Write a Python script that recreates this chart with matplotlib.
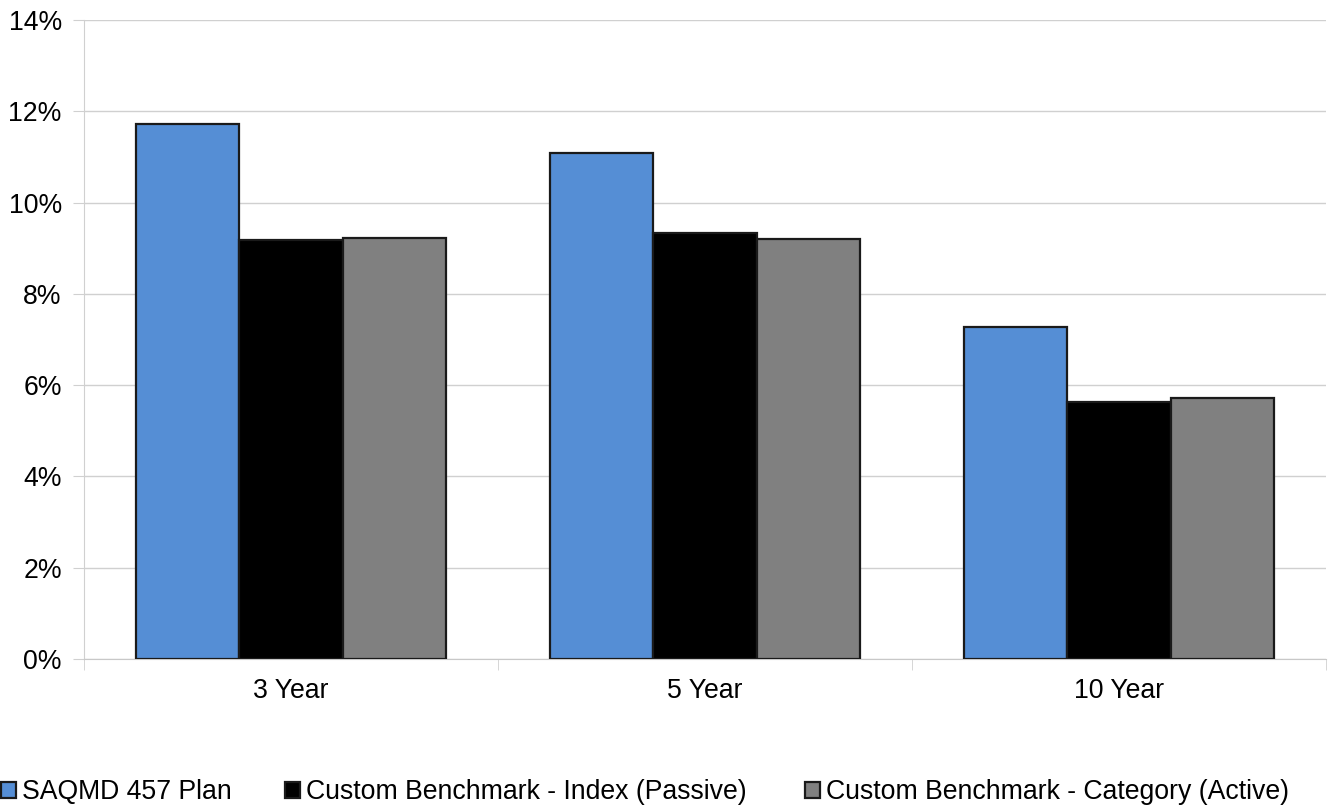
import numpy as np
import matplotlib
matplotlib.use("Agg")
import matplotlib.pyplot as plt
from matplotlib.ticker import FuncFormatter

plt.rcParams['font.family'] = ['Liberation Sans', 'DejaVu Sans']

# data (percent)
periods = ['3 Year', '5 Year', '10 Year']
series_names = ['SAQMD 457 Plan',
                'Custom Benchmark - Index (Passive)',
                'Custom Benchmark - Category (Active)']
plan = [11.72, 11.09, 7.28]
index_bm = [9.18, 9.34, 5.62]
category_bm = [9.22, 9.20, 5.72]
colors = ['#558ED5', '#000000', '#808080']

W, H = 1334, 808
fig = plt.figure(figsize=(W / 100, H / 100), dpi=100)
ax = fig.add_axes([84 / W, (H - 659) / H, (1326 - 84) / W, (659 - 20) / H])

x = np.arange(len(periods))
width = 0.25
bars = []
for i, (vals, name, c) in enumerate(zip([plan, index_bm, category_bm], series_names, colors)):
    b = ax.bar(x + (i - 1) * width, vals, width, color=c, edgecolor='#1a1a1a',
               linewidth=1.6, label=name, zorder=3)
    bars.append(b)

ax.set_xlim(-0.5, 2.5)
ax.set_ylim(0, 14)
ax.set_yticks(np.arange(0, 15, 2))
ax.yaxis.set_major_formatter(FuncFormatter(lambda v, p: f'{v:.0f}%'))
ax.set_xticks(x)
ax.set_xticklabels(periods)
ax.set_xticks([-0.5, 0.5, 1.5, 2.5], minor=True)

ax.grid(axis='y', color='#d0d0d0', linewidth=1, zorder=0)
for s in ['top', 'right']:
    ax.spines[s].set_visible(False)
ax.spines['left'].set_color('#d0d0d0')
ax.spines['bottom'].set_color('#c8c8c8')
ax.tick_params(axis='y', length=8, color='#d0d0d0', labelsize=19.2, pad=8)
ax.tick_params(axis='x', which='major', length=0, labelsize=19.2, pad=14)
ax.tick_params(axis='x', which='minor', length=8, color='#d0d0d0')

# legend entries placed individually, Excel-style spacing
legend_x = [1 / W, 285 / W, 805 / W]
for b, name, lx in zip(bars, series_names, legend_x):
    fig.legend([b], [name], loc='center left', bbox_to_anchor=(lx, 1 - 792 / H),
               frameon=False, fontsize=19.2, handlelength=0.55, handleheight=0.55,
               handletextpad=0.25, borderaxespad=0, borderpad=0)

fig.savefig('out.png', dpi=100)
